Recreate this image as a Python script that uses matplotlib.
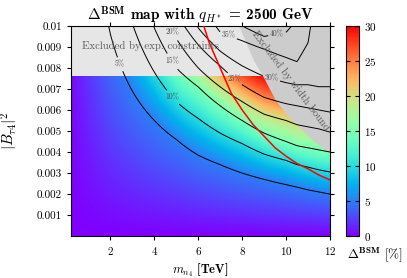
import numpy as np
import matplotlib
matplotlib.use('Agg')
import matplotlib.pyplot as plt

plt.rcParams['font.family'] = 'serif'
plt.rcParams['font.serif'] = ['cmr10']
plt.rcParams['mathtext.fontset'] = 'cm'
plt.rcParams['axes.formatter.use_mathtext'] = True

# contour positions: y of each Delta level at x nodes [TeV]
x_nodes = [0.2, 1, 2, 3, 4, 5, 6, 7, 8, 9, 10, 10.5, 11, 11.5, 12]
levels = [5, 10, 15, 20, 25, 30, 35, 40, 45]
y_5 = [0.095, 0.019, 0.0096, 0.0069, 0.0055, 0.0046, 0.00385, 0.0034, 0.0030, 0.0027, 0.00245, 0.00233, 0.0022, 0.0021, 0.0020]
y_10 = [0.15, 0.03, 0.015, 0.0101, 0.0078, 0.0064, 0.0056, 0.0049, 0.0044, 0.0039, 0.0036, 0.0034, 0.00328, 0.00315, 0.00305]
y_15 = [0.2, 0.04, 0.02, 0.0131, 0.0099, 0.0080, 0.0071, 0.0062, 0.0055, 0.0049, 0.0045, 0.0043, 0.0042, 0.0041, 0.0040]
y_20 = [0.25, 0.05, 0.025, 0.016, 0.0116, 0.0094, 0.0080, 0.0071, 0.0064, 0.0058, 0.0055, 0.0053, 0.0052, 0.0051, 0.00495]
y_25 = [0.3, 0.06, 0.03, 0.019, 0.0137, 0.0106, 0.0091, 0.0081, 0.0072, 0.0066, 0.0063, 0.0062, 0.0061, 0.0060, 0.0059]
y_30 = [0.4, 0.08, 0.04, 0.024, 0.017, 0.0125, 0.0099, 0.0088, 0.0081, 0.0076, 0.0073, 0.0072, 0.0072, 0.0071, 0.0071]
y_35 = [0.5, 0.1, 0.05, 0.03, 0.021, 0.0152, 0.0113, 0.0097, 0.0093, 0.0089, 0.0085, 0.0083, 0.0092, 0.013, 0.0145]
y_40 = [0.6, 0.12, 0.06, 0.036, 0.025, 0.018, 0.0135, 0.0112, 0.0100, 0.0095, 0.0097, 0.0103, 0.0115, 0.015, 0.017]
y_45 = [0.7, 0.14, 0.07, 0.042, 0.03, 0.022, 0.016, 0.013, 0.0115, 0.0108, 0.0112, 0.012, 0.0135, 0.018, 0.021]

# red constraint curve
red_x = [6.25, 6.5, 7, 7.5, 8, 8.5, 9, 9.5, 10, 10.5, 11, 11.5, 12]
red_y = [0.0100, 0.0092, 0.0080, 0.0068, 0.0060, 0.0053, 0.00475, 0.0042, 0.0038, 0.00345, 0.0032, 0.0029, 0.00267]

# width bound boundary
wb_x = [7.85, 8.5, 9, 9.5, 10, 10.5, 11, 11.5, 12]
wb_y = [0.0100, 0.0084, 0.0075, 0.0065, 0.0058, 0.0053, 0.00475, 0.00433, 0.00395]
exp_limit = 0.0076

label_pos = [(2.28, 0.0081), (4.84, 0.0066), (4.8, 0.0083), (4.84, 0.0097),
             (7.67, 0.0075), (9.3, 0.0074), (7.35, 0.0095), (9.63, 0.0094)]

yticks = [0.001, 0.002, 0.003, 0.004, 0.005, 0.006, 0.007, 0.008, 0.009, 0.01]
ytick_labels = ['0.001', '0.002', '0.003', '0.004', '0.005', '0.006', '0.007', '0.008', '0.009', '0.01']
xticks = [2, 4, 6, 8, 10, 12]
cbar_ticks = [0, 5, 10, 15, 20, 25, 30]

# build the field column by column from the contour table
table = np.array([y_5, y_10, y_15, y_20, y_25, y_30, y_35, y_40, y_45])
lx = np.log(x_nodes)
xs = np.linspace(0.2, 12, 500)
ys = np.linspace(0, 0.0101, 400)
Z = np.empty((len(ys), len(xs)))
for j, xv in enumerate(xs):
    yl = np.exp([np.interp(np.log(xv), lx, np.log(row)) for row in table])
    Z[:, j] = np.interp(ys, np.r_[0, yl], np.r_[0, levels])

fig = plt.figure(figsize=(4.07, 2.78), dpi=100)
ax = fig.add_axes([0.1744, 0.151, 0.6364, 0.7555])
cax = fig.add_axes([0.850, 0.151, 0.032, 0.7555])

im = ax.imshow(Z, origin='lower', aspect='auto', extent=[0.2, 12, 0, 0.0101],
               cmap='rainbow', vmin=0, vmax=30, interpolation='bilinear', zorder=0)
ax.axhspan(exp_limit, 0.0102, color='0.9', lw=0, zorder=1)
ax.fill_between(wb_x, wb_y, 0.0102, color='0.8', lw=0, zorder=1)

cs = ax.contour(xs, ys, Z, levels=[5, 10, 15, 20, 25, 30, 35, 40], colors='k',
                linewidths=0.7, zorder=2)
lbls = ax.clabel(cs, fmt='%d%%', manual=label_pos, inline=True, inline_spacing=2,
                 fontsize=5.5, colors='0.3')
for t in lbls:
    t.set_rotation(0)

ax.plot(red_x, red_y, color='red', lw=1.1, zorder=3)

ax.text(0.7, 0.00905, 'Excluded by exp. constraints', color='0.35', fontsize=7.8,
        va='center', zorder=4)
ax.text(10.23, 0.0074, 'Excluded by width bound', color='0.35', fontsize=7.8,
        rotation=-53, ha='center', va='center', rotation_mode='anchor', zorder=4)

ax.set_xlim(0.2, 12)
ax.set_ylim(0, 0.01)
ax.set_xticks(xticks)
ax.set_yticks(yticks)
ax.set_yticklabels(ytick_labels)
ax.tick_params(direction='out', top=True, right=True, length=3, labelsize=8)
ax.set_xlabel(r'$m_{n_4}$ [TeV]', fontfamily='cmb10', fontsize=9, labelpad=3)
ax.set_ylabel(r'$|B_{\tau 4}|^2$', fontsize=11)
ax.yaxis.set_label_coords(-0.195, 0.5)
ax.set_title(r'$\mathbf{\Delta}^{\mathbf{BSM}}$ map with $q_{H^*}$ = 2500 GeV',
             fontfamily='cmb10', fontsize=11, pad=4)

cb = fig.colorbar(im, cax=cax, ticks=cbar_ticks)
cb.outline.set_linewidth(0.8)
cax.tick_params(direction='in', left=True, right=True, length=3, labelsize=8)
fig.text(0.853, 0.07, r'$\mathbf{\Delta}^{\mathbf{BSM}}$ [%]', fontsize=9.5)

fig.savefig('out.png', dpi=100)
